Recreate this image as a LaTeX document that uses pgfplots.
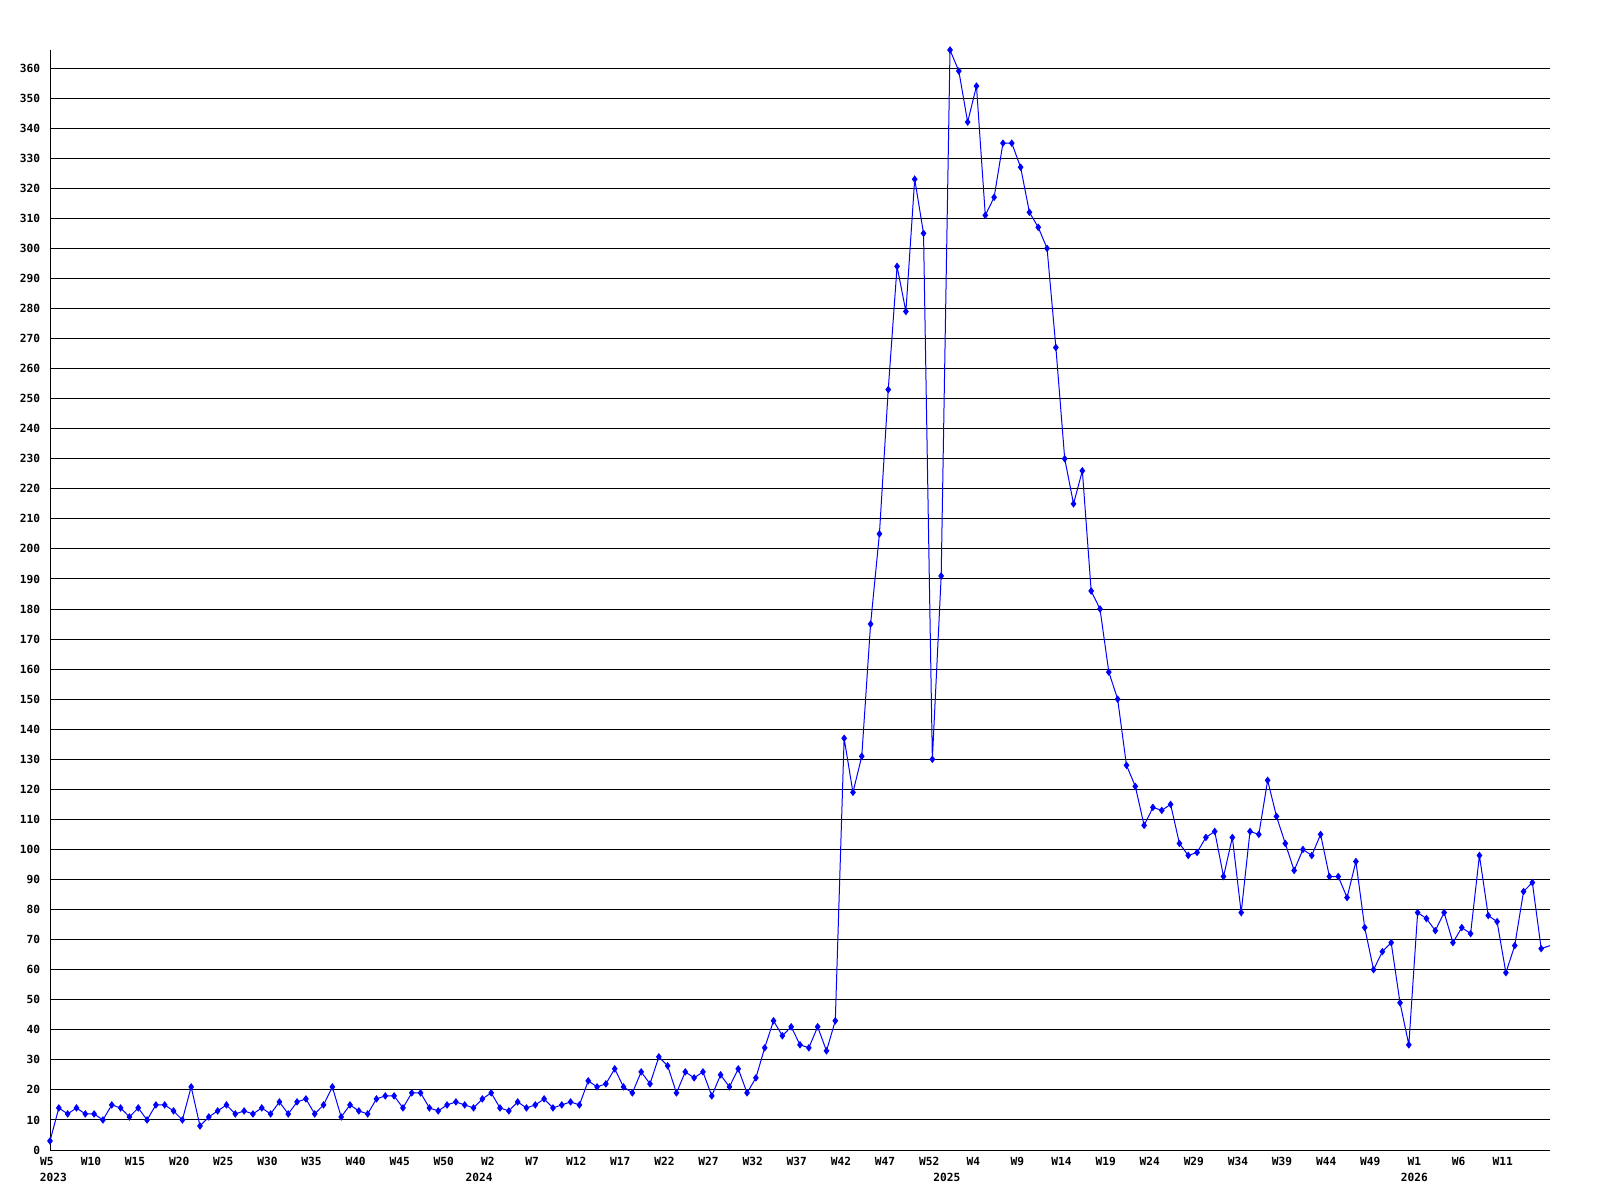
\documentclass[border=0pt]{standalone}
\usepackage{fontspec}
\usepackage{pgfplots}
\usepackage{pgfplotstable}
\pgfplotsset{compat=1.18}
\newfontfamily\lab{DejaVu Sans Mono}
\definecolor{lineblue}{RGB}{0,0,255}
\pgfplotstableread{
x y
0 3
1 14
2 12
3 14
4 12
5 12
6 10
7 15
8 14
9 11
10 14
11 10
12 15
13 15
14 13
15 10
16 21
17 8
18 11
19 13
20 15
21 12
22 13
23 12
24 14
25 12
26 16
27 12
28 16
29 17
30 12
31 15
32 21
33 11
34 15
35 13
36 12
37 17
38 18
39 18
40 14
41 19
42 19
43 14
44 13
45 15
46 16
47 15
48 14
49 17
50 19
51 14
52 13
53 16
54 14
55 15
56 17
57 14
58 15
59 16
60 15
61 23
62 21
63 22
64 27
65 21
66 19
67 26
68 22
69 31
70 28
71 19
72 26
73 24
74 26
75 18
76 25
77 21
78 27
79 19
80 24
81 34
82 43
83 38
84 41
85 35
86 34
87 41
88 33
89 43
90 137
91 119
92 131
93 175
94 205
95 253
96 294
97 279
98 323
99 305
100 130
101 191
102 366
103 359
104 342
105 354
106 311
107 317
108 335
109 335
110 327
111 312
112 307
113 300
114 267
115 230
116 215
117 226
118 186
119 180
120 159
121 150
122 128
123 121
124 108
125 114
126 113
127 115
128 102
129 98
130 99
131 104
132 106
133 91
134 104
135 79
136 106
137 105
138 123
139 111
140 102
141 93
142 100
143 98
144 105
145 91
146 91
147 84
148 96
149 74
150 60
151 66
152 69
153 49
154 35
155 79
156 77
157 73
158 79
159 69
160 74
161 72
162 98
163 78
164 76
165 59
166 68
167 86
168 89
169 67
}\mydata
\pgfplotstableread{
x y
169 67
170 68
}\mytail
\begin{document}
\begin{tikzpicture}
\useasboundingbox (-25bp,-25bp) rectangle (775bp,575bp);
\begin{axis}[
  at={(0,0)}, anchor=south west,
  scale only axis, width=750bp, height=550bp,
  xmin=0, xmax=170, ymin=0, ymax=366,
  clip=false,
  axis x line*=bottom, axis y line*=left,
  x axis line style={-, black, line width=0.5bp},
  y axis line style={-, black, line width=0.5bp},
  major tick length=0pt,
  ytick={0,10,...,360},
  ymajorgrids,
  grid style={black, line width=0.5bp},
  /pgf/number format/assume math mode=true,
  tick label style={font=\lab\bfseries\fontsize{5.6bp}{6.5bp}\selectfont},
  yticklabel style={anchor=east, inner sep=0pt, xshift=-4.8bp},
  xtick={0,5,...,165},
  xticklabels={W5,W10,W15,W20,W25,W30,W35,W40,W45,W50,W2,W7,W12,W17,W22,W27,W32,W37,W42,W47,W52,W4,W9,W14,W19,W24,W29,W34,W39,W44,W49,W1,W6,W11},
  xticklabel style={anchor=center, inner sep=0pt, yshift=-5.5bp, xshift=-1.6bp},
  extra x ticks={0.75,49,102,155},
  extra x tick labels={2023,2024,2025,2026},
  extra x tick style={grid=none, major tick length=0pt, xticklabel style={yshift=-8bp}},
]
\addplot[lineblue, line width=0.5bp, mark=diamond*, mark size=1.5bp, mark options={lineblue, fill=lineblue}] table[x=x,y=y] {\mydata};
\addplot[lineblue, line width=0.5bp, mark=none] table[x=x,y=y] {\mytail};
\end{axis}
\end{tikzpicture}
\end{document}
